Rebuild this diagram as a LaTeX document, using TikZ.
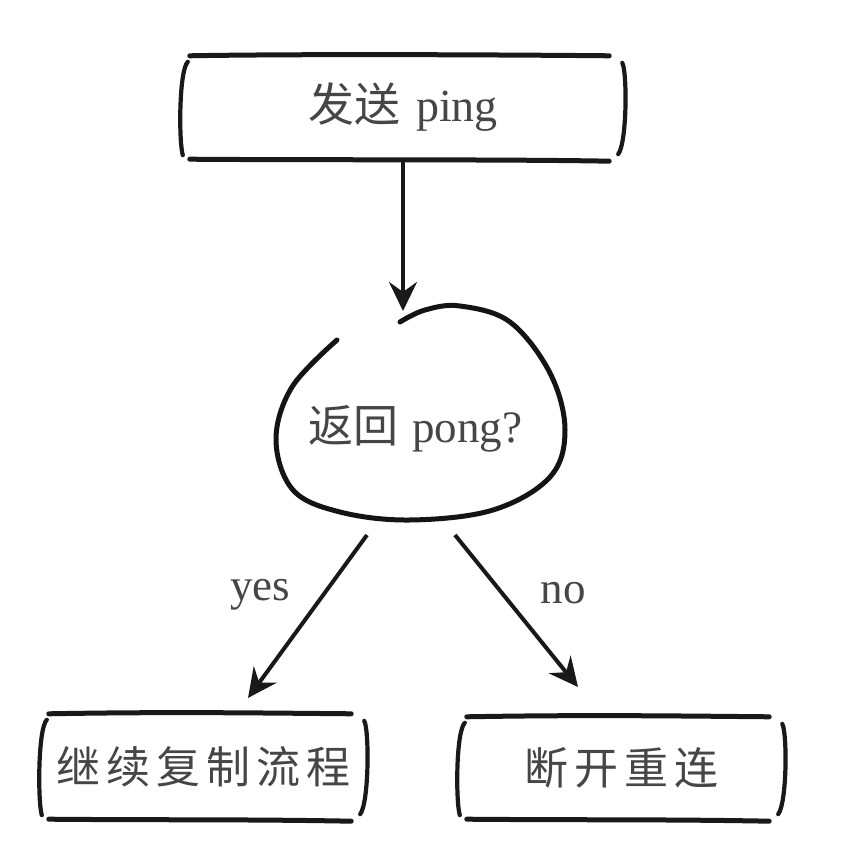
\documentclass[tikz,border=0pt]{standalone}
\usepackage{fontspec}
\setmainfont{Liberation Serif}
\newfontfamily\cjk{Noto Sans CJK SC}
\usetikzlibrary{arrows.meta,shapes.geometric}
\definecolor{txt}{HTML}{464646}
\tikzset{
  boxnode/.style={draw=none,rectangle,inner sep=0pt,text=txt,font=\fontsize{44}{50}\selectfont},
  edge/.style={line width=5pt,line cap=round,black!90},
  brack/.style={line width=4.2pt,line cap=round,black!90},
  arr/.style={line width=4pt,black!90,-{Stealth[length=29pt,width=28pt,inset=10pt]}},
  lbl/.style={text=txt,font=\fontsize{45}{50}\selectfont},
  blobline/.style={line width=5pt,line cap=round,black!92},
}
\newcommand\sketchbox[1]{%
  \draw[edge] ([xshift=7pt,yshift=-1pt]#1.north west) .. controls ([xshift=120pt,yshift=1pt]#1.north west) and ([xshift=-120pt,yshift=0pt]#1.north east) .. ([xshift=-14pt,yshift=-1pt]#1.north east);
  \draw[edge] ([xshift=7pt,yshift=1pt]#1.south west) .. controls ([xshift=120pt,yshift=0pt]#1.south west) and ([xshift=-120pt,yshift=1pt]#1.south east) .. ([xshift=-14pt,yshift=-1pt]#1.south east);
  \draw[brack] ([xshift=5pt,yshift=-7pt]#1.north west) .. controls ([xshift=-4pt,yshift=-16pt]#1.north west) and ([xshift=-4pt,yshift=18pt]#1.south west) .. ([xshift=0pt,yshift=5pt]#1.south west);
  \draw[brack] ([xshift=-1pt,yshift=-8pt]#1.north east) .. controls ([xshift=4pt,yshift=-16pt]#1.north east) and ([xshift=4pt,yshift=18pt]#1.south east) .. ([xshift=-5pt,yshift=6pt]#1.south east);
}
\begin{document}
\begin{tikzpicture}[x=1pt,y=1pt]
\useasboundingbox[fill=white] (0,0) rectangle (842,852);
% nodes
\node[boxnode,minimum width=440pt,minimum height=105pt,font=\fontsize{46}{50}\selectfont] (top) at (403,744.5)
  {{\cjk 发送}\hspace{16pt}ping};
\node[ellipse,draw=none,minimum width=290pt,minimum height=214pt,inner sep=0pt] (blob) at (420,439) {};
\node[text=txt,font=\fontsize{45}{50}\selectfont,inner sep=0pt] (blobtxt) at (415,423)
  {{\cjk 返回}\hspace{14pt}pong?};
\node[boxnode,minimum width=323pt,minimum height=107pt] (yesbox) at (203.5,85.5)
  {\cjk 继\hspace{6pt}续\hspace{6pt}复\hspace{6pt}制\hspace{6pt}流\hspace{6pt}程};
\node[boxnode,minimum width=323pt,minimum height=104pt] (nobox) at (621.5,84)
  {\cjk 断\hspace{6pt}开\hspace{6pt}重\hspace{6pt}连};
% sketch borders
\sketchbox{top}
\sketchbox{yesbox}
\sketchbox{nobox}
% blob outline
\draw[blobline] plot[smooth,tension=0.6] coordinates {(400,530) (425,542) (460,546) (510,530) (550,479) (565,422) (550,375) (493,342) (410,332) (340,340) (293,362) (276,412) (292,465) (337,512)};
% connectors
\coordinate (blobtop) at (403,541);
\coordinate (yesstart) at (367,317);
\coordinate (yesend) at (248,154);
\coordinate (nostart) at (455,317);
\coordinate (noend) at (578,165);
\draw[arr] (top) -- (blobtop);
\draw[arr] (yesstart) -- (yesend);
\draw[arr] (nostart) -- (noend);
% labels
\node[lbl] (yeslbl) at (260,257) {yes};
\node[lbl] (nolbl) at (563,259) {no};
\end{tikzpicture}
\end{document}
